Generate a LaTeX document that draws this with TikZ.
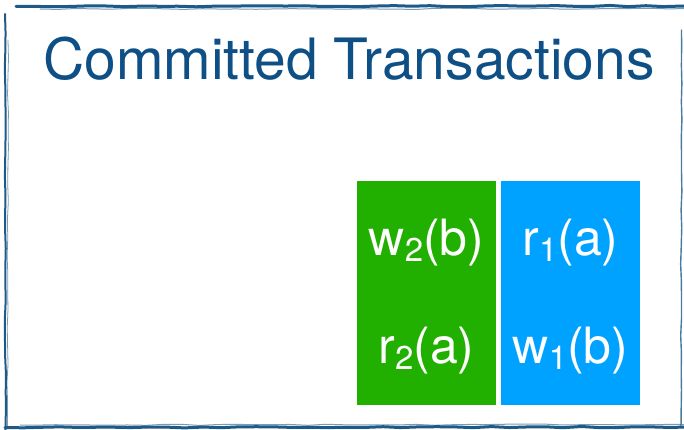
\documentclass[tikz,border=0pt]{standalone}
\usepackage{fontspec}
\setmainfont{TeX Gyre Heros}
\usetikzlibrary{decorations.pathmorphing}
\definecolor{framecol}{HTML}{1D5A88}
\definecolor{titlecol}{HTML}{0E4F85}
\definecolor{txgreen}{HTML}{21B000}
\definecolor{txblue}{HTML}{00A2FF}
\newcommand{\opsub}[1]{\raisebox{-0.12em}{\fontsize{33}{33}\selectfont #1}}

\begin{document}
\begin{tikzpicture}[x=1pt,y=-1pt,
    sketch/.style={draw=framecol,line cap=round,decorate,
      decoration={random steps,segment length=18pt,amplitude=0.6pt}},
    txbox/.style={rectangle,inner sep=0pt,minimum width=139pt,minimum height=224pt},
    oplabel/.style={text=white,anchor=base,inner sep=0pt,font=\fontsize{50}{50}\selectfont}]
            \useasboundingbox (0,0) rectangle (684,430);
            \pgfmathsetseed{7}
            % hand drawn frame
            \draw [sketch,line width=3pt] (16,6.5) -- (684,6);
            \draw [sketch,line width=1pt,opacity=0.6] (40,9) -- (684,8.5);
            \draw [sketch,line width=2pt] (5,14) -- (5.5,430);
            \draw [sketch,line width=0.8pt,opacity=0.6] (8,40) -- (7.5,428);
            \draw [sketch,line width=3pt] (5,427.5) -- (684,427);
            \draw [sketch,line width=1pt,opacity=0.6] (20,425) -- (684,424.5);
            \draw [sketch,line width=1.4pt,opacity=0.8] (681.5,30) -- (681,426);
            % title
            \node [anchor=base west,inner sep=0pt,text=titlecol,font=\fontsize{57}{57}\selectfont] (title) at (43,80) {Committed Transactions};
            % transactions
            \node [txbox,fill=txgreen] (t2) at (426.5,293) {};
            \node [txbox,fill=txblue] (t1) at (570.5,293) {};
            \node [oplabel] (w2b) at ([yshift=38pt]t2.center) {w\opsub{2}(b)};
            \node [oplabel] (r2a) at ([yshift=-70pt]t2.center) {r\opsub{2}(a)};
            \node [oplabel] (r1a) at ([yshift=38pt]t1.center) {r\opsub{1}(a)};
            \node [oplabel] (w1b) at ([yshift=-70pt]t1.center) {w\opsub{1}(b)};
        \end{tikzpicture}
\end{document}
